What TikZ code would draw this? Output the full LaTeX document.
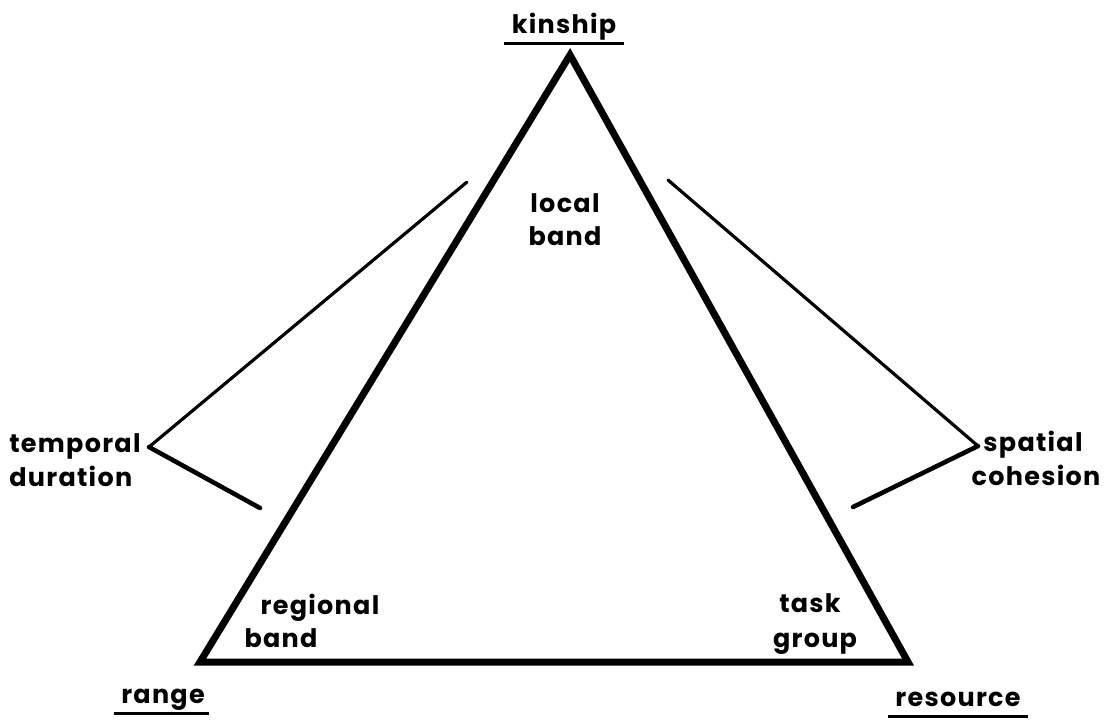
\documentclass[tikz,border=0pt]{standalone}
\usepackage{fontspec}
\newfontfamily\lblfont{Poppins}[LetterSpace=5]
\usetikzlibrary{positioning}

\begin{document}
\begin{tikzpicture}[
  x=0.02cm, y=-0.02cm,
  lbl/.style={font=\lblfont\bfseries\fontsize{14.5}{18}\selectfont,inner sep=0pt,anchor=base},
  edge/.style={line width=4pt,line join=miter,line cap=round},
  brace/.style={line width=1.8pt,line cap=round,line join=miter},
  uline/.style={line width=1.6pt}
]
\useasboundingbox (0,0) rectangle (1105,721);
% corners of the triangle
\coordinate (top) at (570,55);
\coordinate (left) at (200,662);
\coordinate (right) at (908,662);
\draw[edge] (top) -- (left) -- (right) -- cycle;
% corner labels
\node[lbl] (kinship) at (564,33) {kinship};
\node[lbl] (range) at (163,703) {range};
\node[lbl] (resource) at (958,706) {resource};
\draw[uline] ([xshift=-4pt,yshift=-6pt]kinship.base west) -- ([xshift=4pt,yshift=-6pt]kinship.base east);
\draw[uline] ([xshift=-4pt,yshift=-6pt]range.base west) -- ([xshift=2pt,yshift=-6pt]range.base east);
\draw[uline] ([xshift=-4pt,yshift=-6pt]resource.base west) -- ([xshift=4pt,yshift=-6pt]resource.base east);
% inner labels
\node[lbl] (localA) at (565,212) {local};
\node[lbl] (localB) at (565,245) {band};
\node[lbl] (regionalA) at (320,614) {regional};
\node[lbl] (regionalB) at (281,647) {band};
\node[lbl] (taskA) at (810,612) {task};
\node[lbl] (taskB) at (815,647) {group};
% side brackets
\node[lbl,anchor=base west] (temporal) at (9,452) {temporal};
\node[lbl,anchor=base west] (duration) at (9,486) {duration};
\node[lbl] (spatial) at (1033,451) {spatial};
\node[lbl] (cohesion) at (1036,485) {cohesion};
\coordinate (tl1) at (467,182);
\coordinate (tl2) at (149,447);
\coordinate (tl3) at (260,508);
\coordinate (sc1) at (668,180);
\coordinate (sc2) at (978,446);
\coordinate (sc3) at (853,507);
\draw[brace] (tl1) -- (tl2);
\draw[brace,line width=2.6pt] (tl2) -- (tl3);
\draw[brace] (sc1) -- (sc2);
\draw[brace,line width=2.6pt] (sc2) -- (sc3);
\end{tikzpicture}
\end{document}
